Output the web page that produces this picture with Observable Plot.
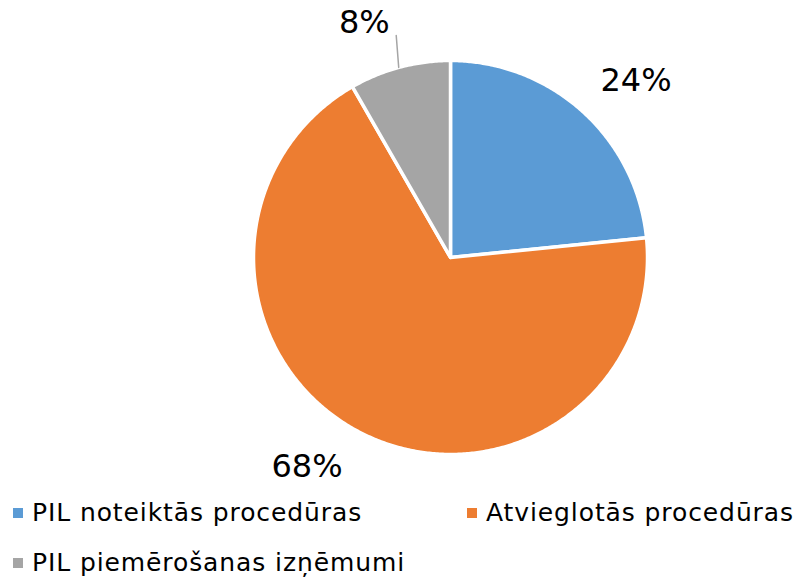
<!DOCTYPE html>
<html>
<head>
<meta charset="utf-8">
<script src="https://cdn.jsdelivr.net/npm/d3@7"></script>
<script src="https://cdn.jsdelivr.net/npm/@observablehq/plot@0.6"></script>
<style>
  html, body { margin: 0; padding: 0; background: #fff; }
  #wrap { position: relative; width: 795px; height: 577px; font-family: "DejaVu Sans", Verdana, sans-serif; }
  #wrap svg { position: absolute; left: 0; top: 0; }
  .leg { position: absolute; font-size: 25px; line-height: 25px; letter-spacing: 0.9px; color: #000; white-space: nowrap; }
  .sw { position: absolute; width: 10px; height: 10px; }
</style>
</head>
<body>
<div id="wrap"></div>
<script>
// ---- data ----
const categories = ["PIL noteiktās procedūras", "Atvieglotās procedūras", "PIL piemērošanas izņēmumi"];
const shares = [23.4, 68.3, 8.3];
const labels = ["24%", "68%", "8%"];
const colors = ["#5B9BD5", "#ED7D31", "#A5A5A5"];

// ---- layout ----
const W = 795, H = 490;
const cx = 450, cy = 257, R = 197;
const labelAngleShift = [4.3, 7.2, -5.2]; // degrees, best-fit nudges
const labelRadius = [1.30, 1.29, 1.27];

const total = d3.sum(shares);
let acc = 0;
const slices = shares.map((v, i) => {
  const a0 = acc / total * 360; acc += v; const a1 = acc / total * 360;
  return {cat: categories[i], a0, a1, mid: (a0 + a1) / 2, label: labels[i], i};
});
const rad = d => d * Math.PI / 180;
const pt = (a, r) => ({x: r * Math.sin(rad(a)), y: r * Math.cos(rad(a))});

const poly = [];
for (const s of slices) {
  poly.push({cat: s.cat, ...pt(0, 0)});
  const n = Math.max(2, Math.ceil(s.a1 - s.a0) * 2);
  for (let k = 0; k <= n; k++) poly.push({cat: s.cat, ...pt(s.a0 + (s.a1 - s.a0) * k / n, 1)});
}
const labelPts = slices.map(s => ({label: s.label, ...pt(s.mid + labelAngleShift[s.i], labelRadius[s.i])}));
const leader = slices.filter(s => s.i === 2).flatMap(s => [
  {cat: s.cat, ...pt(s.mid - 0.3, 1.0)}, {cat: s.cat, ...pt(s.mid + 1.2, 1.16)}
]);

const chart = Plot.plot({
  width: W, height: H,
  margin: 0,
  x: {domain: [-cx / R, (W - cx) / R], range: [0, W], axis: null},
  y: {domain: [-(H - cy) / R, cy / R], range: [H, 0], axis: null},
  color: {domain: categories, range: colors},
  style: {fontFamily: "DejaVu Sans, Verdana, sans-serif", background: "#fff"},
  marks: [
    Plot.line(poly, {x: "x", y: "y", z: "cat", fill: "cat", stroke: "#fff", strokeWidth: 3.5, curve: "linear-closed", strokeLinejoin: "round"}),
    Plot.line(leader, {x: "x", y: "y", stroke: "#A5A5A5", strokeWidth: 1.5}),
    Plot.text(labelPts, {x: "x", y: "y", text: "label", fontSize: 32, fill: "#000", textAnchor: "middle", lineAnchor: "middle"})
  ]
});

const wrap = document.getElementById("wrap");
wrap.appendChild(chart);

// HTML legend below the chart
const legPos = [{x: 13, row: 0}, {x: 467, row: 0}, {x: 13, row: 1}];
categories.forEach((c, i) => {
  const p = legPos[i];
  const top = 500 + p.row * 50;
  const sw = document.createElement("div");
  sw.className = "sw";
  sw.style.left = p.x + "px"; sw.style.top = (top + 8) + "px"; sw.style.background = colors[i];
  wrap.appendChild(sw);
  const t = document.createElement("div");
  t.className = "leg";
  t.style.left = (p.x + 19) + "px"; t.style.top = top + "px";
  t.textContent = c;
  wrap.appendChild(t);
});
</script>
</body>
</html>
